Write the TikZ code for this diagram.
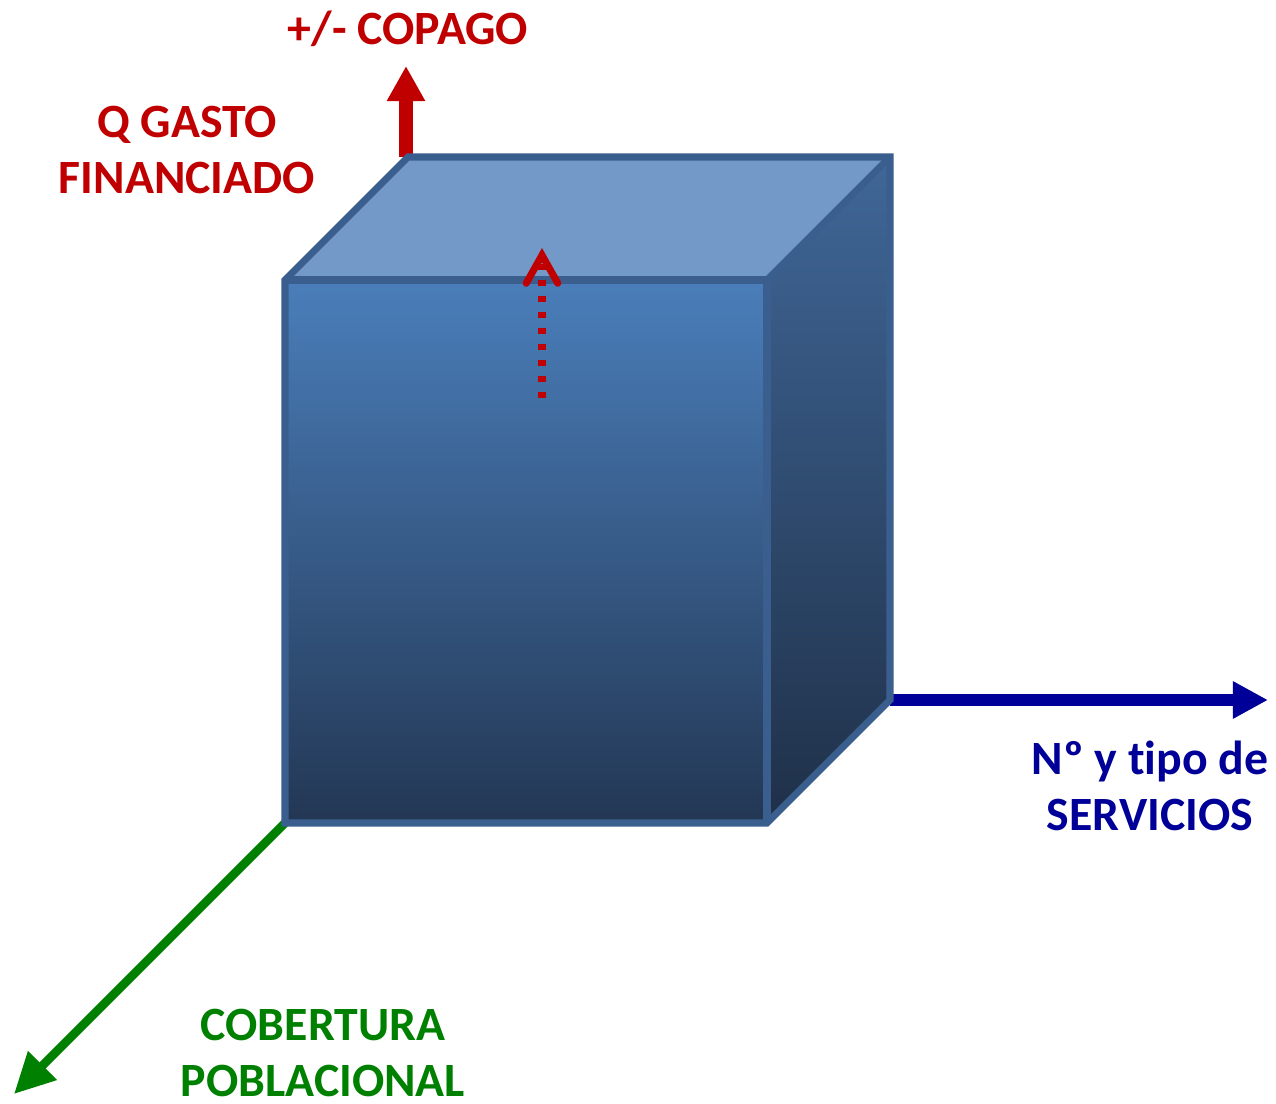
\documentclass[tikz,border=0pt]{standalone}
\usepackage{fontspec}
\setmainfont{Carlito}[Ligatures=NoCommon, Contextuals=NoAlternate]
\usetikzlibrary{arrows.meta}
\definecolor{cubeedge}{HTML}{3A5F8F}
\definecolor{fronttop}{HTML}{4A7EBA}
\definecolor{frontbot}{HTML}{233754}
\definecolor{topface}{HTML}{7399C8}
\definecolor{sidetop}{HTML}{406798}
\definecolor{sidebot}{HTML}{1F3048}
\definecolor{myred}{HTML}{C00000}
\definecolor{myblue}{HTML}{000099}
\definecolor{mygreen}{HTML}{008000}
\tikzset{
    edge/.style={draw=cubeedge, line width=4pt, line join=miter},
    lbl/.style={font=\fontsize{27.2}{32.3}\selectfont\bfseries, align=center, inner sep=0pt},
    upax/.style={myred, line width=7.6pt, -{Triangle[length=20pt, width=20.5pt]}},
    rightax/.style={myblue, line width=6.8pt, -{Triangle[length=20pt, width=20pt]}},
    downax/.style={mygreen, line width=5pt, -{Triangle[length=23pt, width=22pt]}},
    rise/.style={myred, line width=4pt, dash pattern=on 3.4pt off 5.7pt,
        -{Straight Barb[length=16pt, width=18pt, line cap=round]}}
}
\begin{document}
\begin{tikzpicture}[x=0.02cm, y=-0.02cm]
\useasboundingbox (0,0) rectangle (1276,1104);

\coordinate (ftl) at (285,280);
\coordinate (ftr) at (767,280);
\coordinate (fbr) at (767,823);
\coordinate (fbl) at (285,823);
\coordinate (btl) at (408,157);
\coordinate (btr) at (890,157);
\coordinate (bbr) at (890,700);

\coordinate (upfoot) at (406,157);
\coordinate (uptip) at (406,66);
\coordinate (righttip) at (1268,700);
\coordinate (downtip) at (14,1094);
\coordinate (risefrom) at (542,398);
\coordinate (riseto) at (542,248);

\draw[upax] (upfoot) -- (uptip);
\draw[rightax] (bbr) -- (righttip);
\draw[downax] (fbl) -- (downtip);

\shade[top color=sidetop, bottom color=sidebot] (ftr) -- (btr) -- (bbr) -- (fbr) -- cycle;
\fill[topface] (ftl) -- (btl) -- (btr) -- (ftr) -- cycle;
\shade[top color=fronttop, bottom color=frontbot] (ftl) rectangle (fbr);
\draw[edge] (ftl) -- (btl) -- (btr) -- (bbr) -- (fbr) -- (fbl) -- cycle;
\draw[edge] (ftl) -- (ftr) -- (fbr);
\draw[edge] (ftr) -- (btr);

\draw[rise] (risefrom) -- (riseto);

\node[lbl, myred] (copago) at (408,29) {+/- COPAGO};
\node[lbl, myred] (gasto) at (187,150) {Q GASTO\\FINANCIADO};
\node[lbl, myblue] (servicios) at (1150,786) {Nº y tipo de\\SERVICIOS};
\node[lbl, mygreen] (cobertura) at (323,1053) {COBERTURA\\POBLACIONAL};
\end{tikzpicture}
\end{document}
